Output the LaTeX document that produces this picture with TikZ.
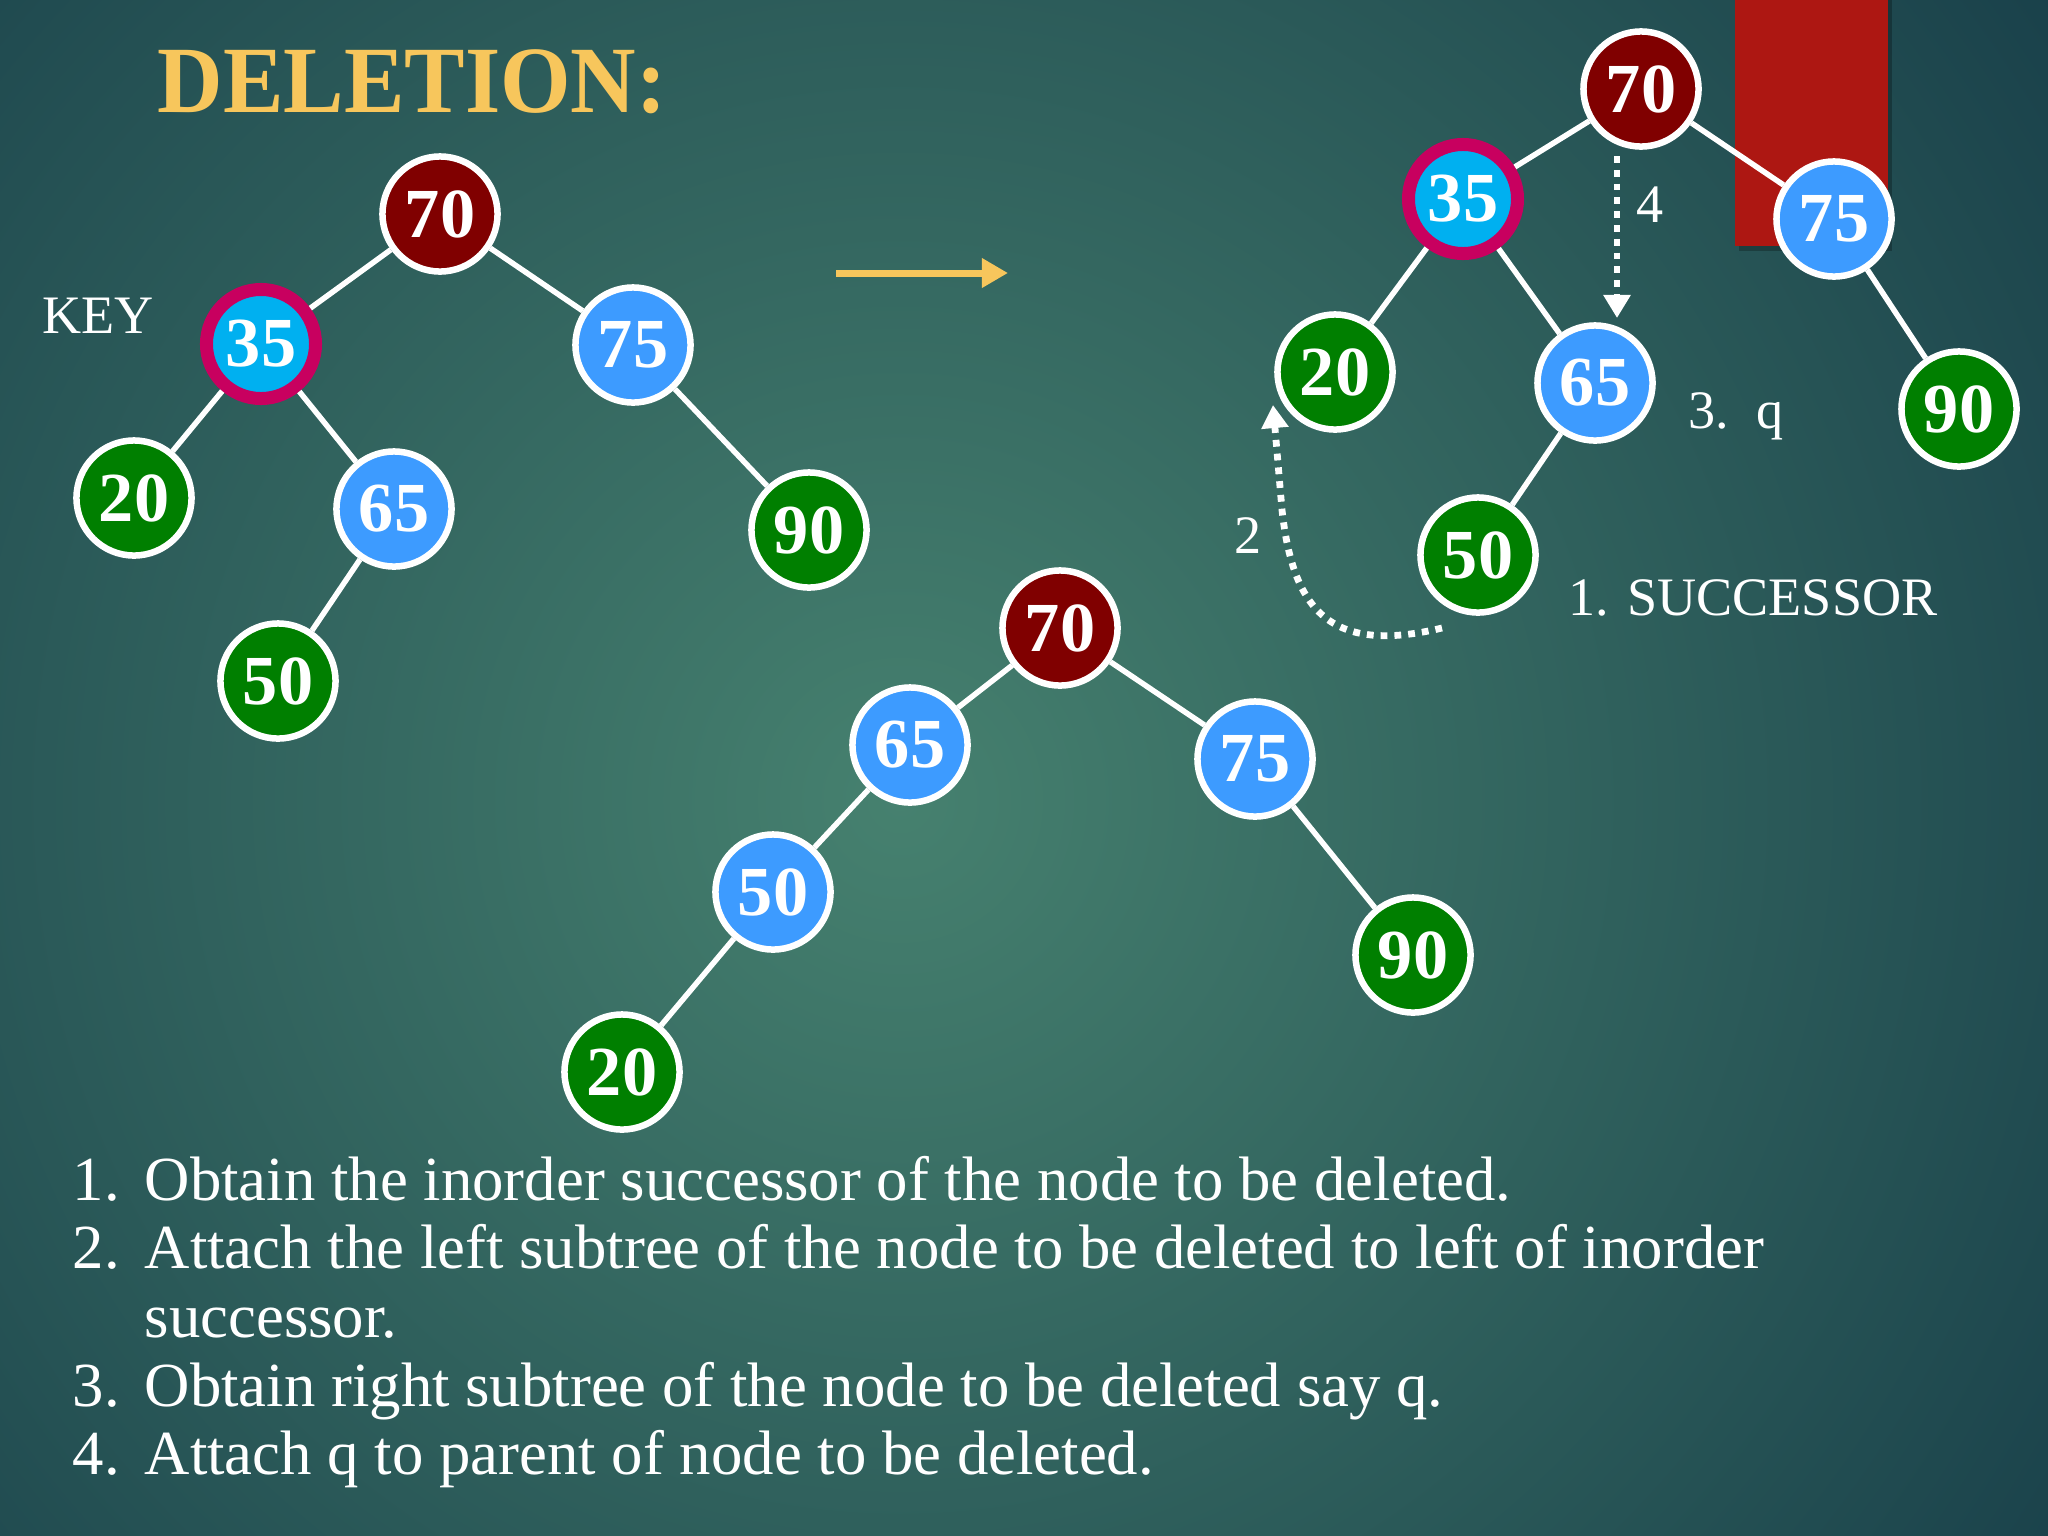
\documentclass[tikz,border=0pt]{standalone}
\usepackage{fontspec}
\setmainfont{Liberation Serif}
\usetikzlibrary{arrows.meta}
\definecolor{bgin}{HTML}{46816F}
\definecolor{bgout}{HTML}{143946}
\definecolor{nred}{HTML}{800000}
\definecolor{nblue}{HTML}{3D9BFF}
\definecolor{ncyan}{HTML}{00B0F0}
\definecolor{ngreen}{HTML}{007F00}
\definecolor{keyring}{HTML}{C8005F}
\definecolor{gold}{HTML}{F7C65C}
\definecolor{barred}{HTML}{AD1712}
\begin{document}
\begin{tikzpicture}[x=0.01cm,y=-0.01cm,
  bst/.style={circle,draw=white,line width=0.065cm,minimum size=1.15cm,inner sep=0pt,text=white,font=\fontsize{20}{20}\selectfont\bfseries},
  rednode/.style={bst,fill=nred},
  bluenode/.style={bst,fill=nblue},
  greennode/.style={bst,fill=ngreen},
  keynode/.style={bst,fill=ncyan,draw=keyring,line width=0.13cm,minimum size=1.09cm},
  edge/.style={white,line width=0.055cm},
  dotarrow/.style={white,line width=0.068cm,dash pattern=on 0.068cm off 0.07cm,-{Triangle[width=0.26cm,length=0.23cm]}},
  lbl/.style={text=white,font=\fontsize{15.4}{15.4}\selectfont,inner sep=0pt},
  listtext/.style={text=white,font=\fontsize{17.85}{17.85}\selectfont,inner sep=0pt,anchor=base west}
]
\useasboundingbox (0,0) rectangle (2048,1536);
% background
\begin{scope}
\clip (0,0) rectangle (2048,1536);
\fill[bgout] (0,0) rectangle (2048,1536);
\shade[inner color=bgin,outer color=bgout] (900,800) circle (1580);
\end{scope}
% red bar
\fill[black,opacity=0.25] (1739,0) rectangle (1892,251);
\fill[barred] (1735,0) rectangle (1888,246);

% title
\node[anchor=base west,text=gold,font=\fontsize{27}{27}\selectfont\bfseries,inner sep=0pt] (title) at (157,112) {\scalebox{0.955}[1]{DELETION:}};
\node[lbl,anchor=base west] (key) at (42,333) {KEY};

% tree 1
\node[rednode]   (a70) at (440,214) {70};
\node[keynode]   (a35) at (261,344) {35};
\node[bluenode]  (a75) at (633,345) {75};
\node[greennode] (a20) at (134,498) {20};
\node[bluenode]  (a65) at (394,509) {65};
\node[greennode] (a90) at (809,530) {90};
\node[greennode] (a50) at (278,681) {50};

% arrow
\coordinate (arrs) at (836,273);
\coordinate (arre) at (1008,273);
\draw[gold,line width=0.07cm,-{Triangle[width=0.28cm,length=0.26cm]}] (arrs) -- (arre);

% tree 2
\node[rednode]   (b70) at (1641,89) {70};
\node[keynode]   (b35) at (1463,199) {35};
\node[bluenode]  (b75) at (1834,219) {75};
\node[greennode] (b20) at (1335,372) {20};
\node[bluenode]  (b65) at (1595,383) {65};
\node[greennode] (b90) at (1959,409) {90};
\node[greennode] (b50) at (1478,555) {50};

% tree 3
\node[rednode]   (c70) at (1060,628) {70};
\node[bluenode]  (c65) at (910,745) {65};
\node[bluenode]  (c75) at (1255,759) {75};
\node[bluenode]  (c50) at (773,892) {50};
\node[greennode] (c90) at (1413,955) {90};
\node[greennode] (c20) at (622,1072) {20};

% edges
\draw[edge] (a70) -- (a35);
\draw[edge] (a70) -- (a75);
\draw[edge] (a35) -- (a20);
\draw[edge] (a35) -- (a65);
\draw[edge] (a65) -- (a50);
\draw[edge] (a75) -- (a90);
\draw[edge] (b70) -- (b35);
\draw[edge] (b70) -- (b75);
\draw[edge] (b35) -- (b20);
\draw[edge] (b35) -- (b65);
\draw[edge] (b65) -- (b50);
\draw[edge] (b75) -- (b90);
\draw[edge] (c70) -- (c65);
\draw[edge] (c70) -- (c75);
\draw[edge] (c65) -- (c50);
\draw[edge] (c50) -- (c20);
\draw[edge] (c75) -- (c90);

% dotted arrows
\coordinate (d4s) at (1617,156);
\coordinate (d4e) at (1617,318);
\draw[dotarrow] (d4s) -- (d4e);
\coordinate (d2s) at (1442,628);
\coordinate (d2e) at (1273,405);
\draw[dotarrow] (d2s) .. controls (1330,655) and (1293,610) .. (1282,510) -- (d2e);

% labels
\node[lbl,anchor=base west] (l4) at (1636,222) {4};
\node[lbl,anchor=base west] (l2) at (1234,553) {2};
\node[lbl,anchor=base west] (l3) at (1688,428) {3.\hspace{0.5em}q};
\node[lbl,anchor=base west] (l1) at (1568,615) {1. SUCCESSOR};

% list
\node[listtext] (n1) at (72,1200) {1.};
\node[listtext] (t1) at (144,1200) {Obtain the inorder successor of the node to be deleted.};
\node[listtext] (n2) at (72,1268) {2.};
\node[listtext] (t2) at (144,1268) {Attach the left subtree of the node to be deleted to left of inorder};
\node[listtext] (t2b) at (144,1337) {successor.};
\node[listtext] (n3) at (72,1406) {3.};
\node[listtext] (t3) at (144,1406) {Obtain right subtree of the node to be deleted say q.};
\node[listtext] (n4) at (72,1474) {4.};
\node[listtext] (t4) at (144,1474) {Attach q to parent of node to be deleted.};
\end{tikzpicture}
\end{document}
